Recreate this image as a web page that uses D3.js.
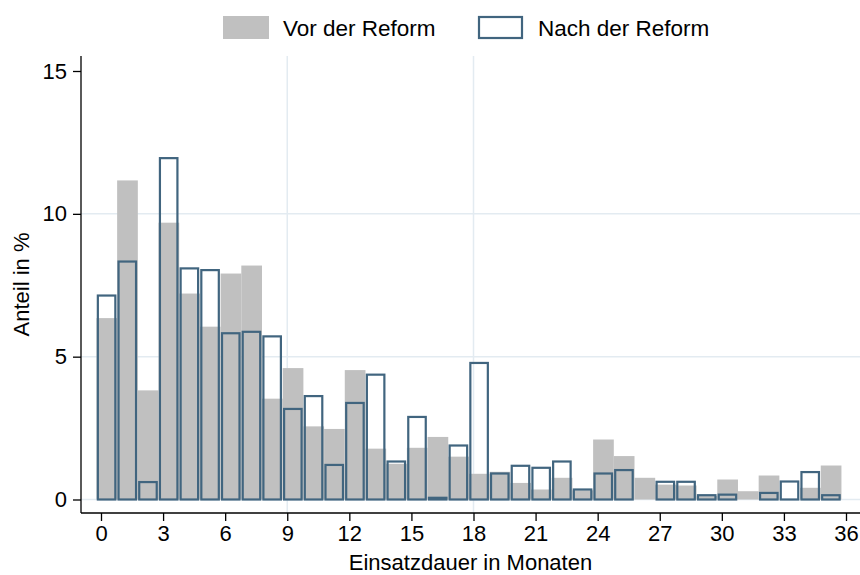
<!DOCTYPE html>
<html>
<head>
<meta charset="utf-8">
<script src="https://cdn.jsdelivr.net/npm/d3@7"></script>
<style>
  html, body { margin: 0; padding: 0; background: #ffffff; }
  svg { display: block; font-family: "Liberation Sans", Arial, sans-serif; }
</style>
</head>
<body>
<svg id="chart" width="860" height="575"></svg>
<script>
// Monthly bins of assignment duration (0 … 35 months)
const months = d3.range(0, 36);
// Share in % before the reform
const vorReform = [6.35, 11.17, 3.82, 9.69, 7.21, 6.05, 7.91, 8.19, 3.53, 4.60,
                   2.56, 2.47, 4.53, 1.78, 1.25, 1.81, 2.19, 1.50, 0.90, 0.97,
                   0.58, 0.35, 0.76, 0.32, 2.10, 1.52, 0.76, 0.52, 0.49, 0.12,
                   0.70, 0.29, 0.84, 0.00, 0.41, 1.19];
// Share in % after the reform
const nachReform = [7.14, 8.33, 0.61, 11.95, 8.09, 8.03, 5.82, 5.87, 5.71, 3.17,
                    3.62, 1.21, 3.38, 4.37, 1.33, 2.89, 0.06, 1.89, 4.78, 0.91,
                    1.18, 1.11, 1.33, 0.35, 0.91, 1.03, 0.00, 0.62, 0.62, 0.15,
                    0.17, 0.00, 0.23, 0.63, 0.96, 0.15];
const xTicks = d3.range(0, 37, 3);
const yTicks = [0, 5, 10, 15];
const xGridValues = [9, 18];
const yGridValues = [0, 5, 10];
const seriesNames = ["Vor der Reform", "Nach der Reform"];

const grey = "#c0c0c0";
const blue = "#41657f";
const gridColor = "#e3ebf1";
const fontSize = 22;

const svg = d3.select("#chart");

const plot = { left: 81, right: 860, top: 56, bottom: 513 };
const x = d3.scaleLinear().domain([0, 36]).range([101, 846]);
const y = d3.scaleLinear().domain([0, 15]).range([499.5, 71]);
const binStart = -0.22; // bin left edge relative to the month value

// grid lines
svg.append("g").selectAll("line").data(yGridValues).join("line")
  .attr("x1", plot.left).attr("x2", plot.right)
  .attr("y1", d => y(d)).attr("y2", d => y(d))
  .attr("stroke", gridColor).attr("stroke-width", 1.5);
svg.append("g").selectAll("line").data(xGridValues).join("line")
  .attr("x1", d => x(d)).attr("x2", d => x(d))
  .attr("y1", plot.top).attr("y2", plot.bottom)
  .attr("stroke", gridColor).attr("stroke-width", 1.5);

// grey bars (before)
svg.append("g").selectAll("rect").data(months).join("rect")
  .attr("x", i => x(i + binStart))
  .attr("width", i => x(i + binStart + 1) - x(i + binStart))
  .attr("y", i => y(vorReform[i]))
  .attr("height", i => y(0) - y(vorReform[i]))
  .attr("fill", grey);

// outlined bars (after)
svg.append("g").selectAll("rect").data(months.filter(i => nachReform[i] > 0)).join("rect")
  .attr("x", i => x(i + binStart) + 1.4)
  .attr("width", i => x(i + binStart + 1) - x(i + binStart) - 3.2)
  .attr("y", i => y(nachReform[i]))
  .attr("height", i => y(0) - y(nachReform[i]))
  .attr("fill", "none")
  .attr("stroke", blue).attr("stroke-width", 2.2);

// y axis
const yAxis = svg.append("g")
  .attr("transform", `translate(${plot.left},0)`)
  .call(d3.axisLeft(y).tickValues(yTicks).tickSize(8).tickPadding(6).tickSizeOuter(0));
yAxis.select(".domain").attr("d", `M0,${plot.top}V${plot.bottom}`)
  .attr("stroke", "#000").attr("stroke-width", 1.3);
yAxis.selectAll(".tick line").attr("stroke", "#000").attr("stroke-width", 1.3);
yAxis.selectAll(".tick text").attr("font-size", fontSize)
  .attr("font-family", "Liberation Sans, Arial, sans-serif").attr("fill", "#000");

// x axis
const xAxis = svg.append("g")
  .attr("transform", `translate(0,${plot.bottom})`)
  .call(d3.axisBottom(x).tickValues(xTicks).tickSize(8).tickPadding(4).tickSizeOuter(0));
xAxis.select(".domain").attr("d", `M${plot.left},0H${plot.right}`)
  .attr("stroke", "#000").attr("stroke-width", 1.3);
xAxis.selectAll(".tick line").attr("stroke", "#000").attr("stroke-width", 1.3);
xAxis.selectAll(".tick text").attr("font-size", fontSize)
  .attr("font-family", "Liberation Sans, Arial, sans-serif").attr("fill", "#000");

// axis titles
svg.append("text")
  .attr("x", (plot.left + plot.right) / 2).attr("y", 570)
  .attr("text-anchor", "middle").attr("font-size", fontSize)
  .text("Einsatzdauer in Monaten");
svg.append("text")
  .attr("transform", `translate(28.5,${(plot.top + plot.bottom) / 2}) rotate(-90)`)
  .attr("text-anchor", "middle").attr("font-size", fontSize)
  .text("Anteil in %");

// legend
const legend = svg.append("g");
legend.append("rect").attr("x", 223).attr("y", 16).attr("width", 46).attr("height", 23)
  .attr("fill", grey);
legend.append("text").attr("x", 283).attr("y", 36).attr("font-size", 22.5)
  .text(seriesNames[0]);
legend.append("rect").attr("x", 479).attr("y", 17).attr("width", 43).attr("height", 21)
  .attr("fill", "none").attr("stroke", blue).attr("stroke-width", 2.2);
legend.append("text").attr("x", 538).attr("y", 36).attr("font-size", 22.5)
  .text(seriesNames[1]);
</script>
</body>
</html>
